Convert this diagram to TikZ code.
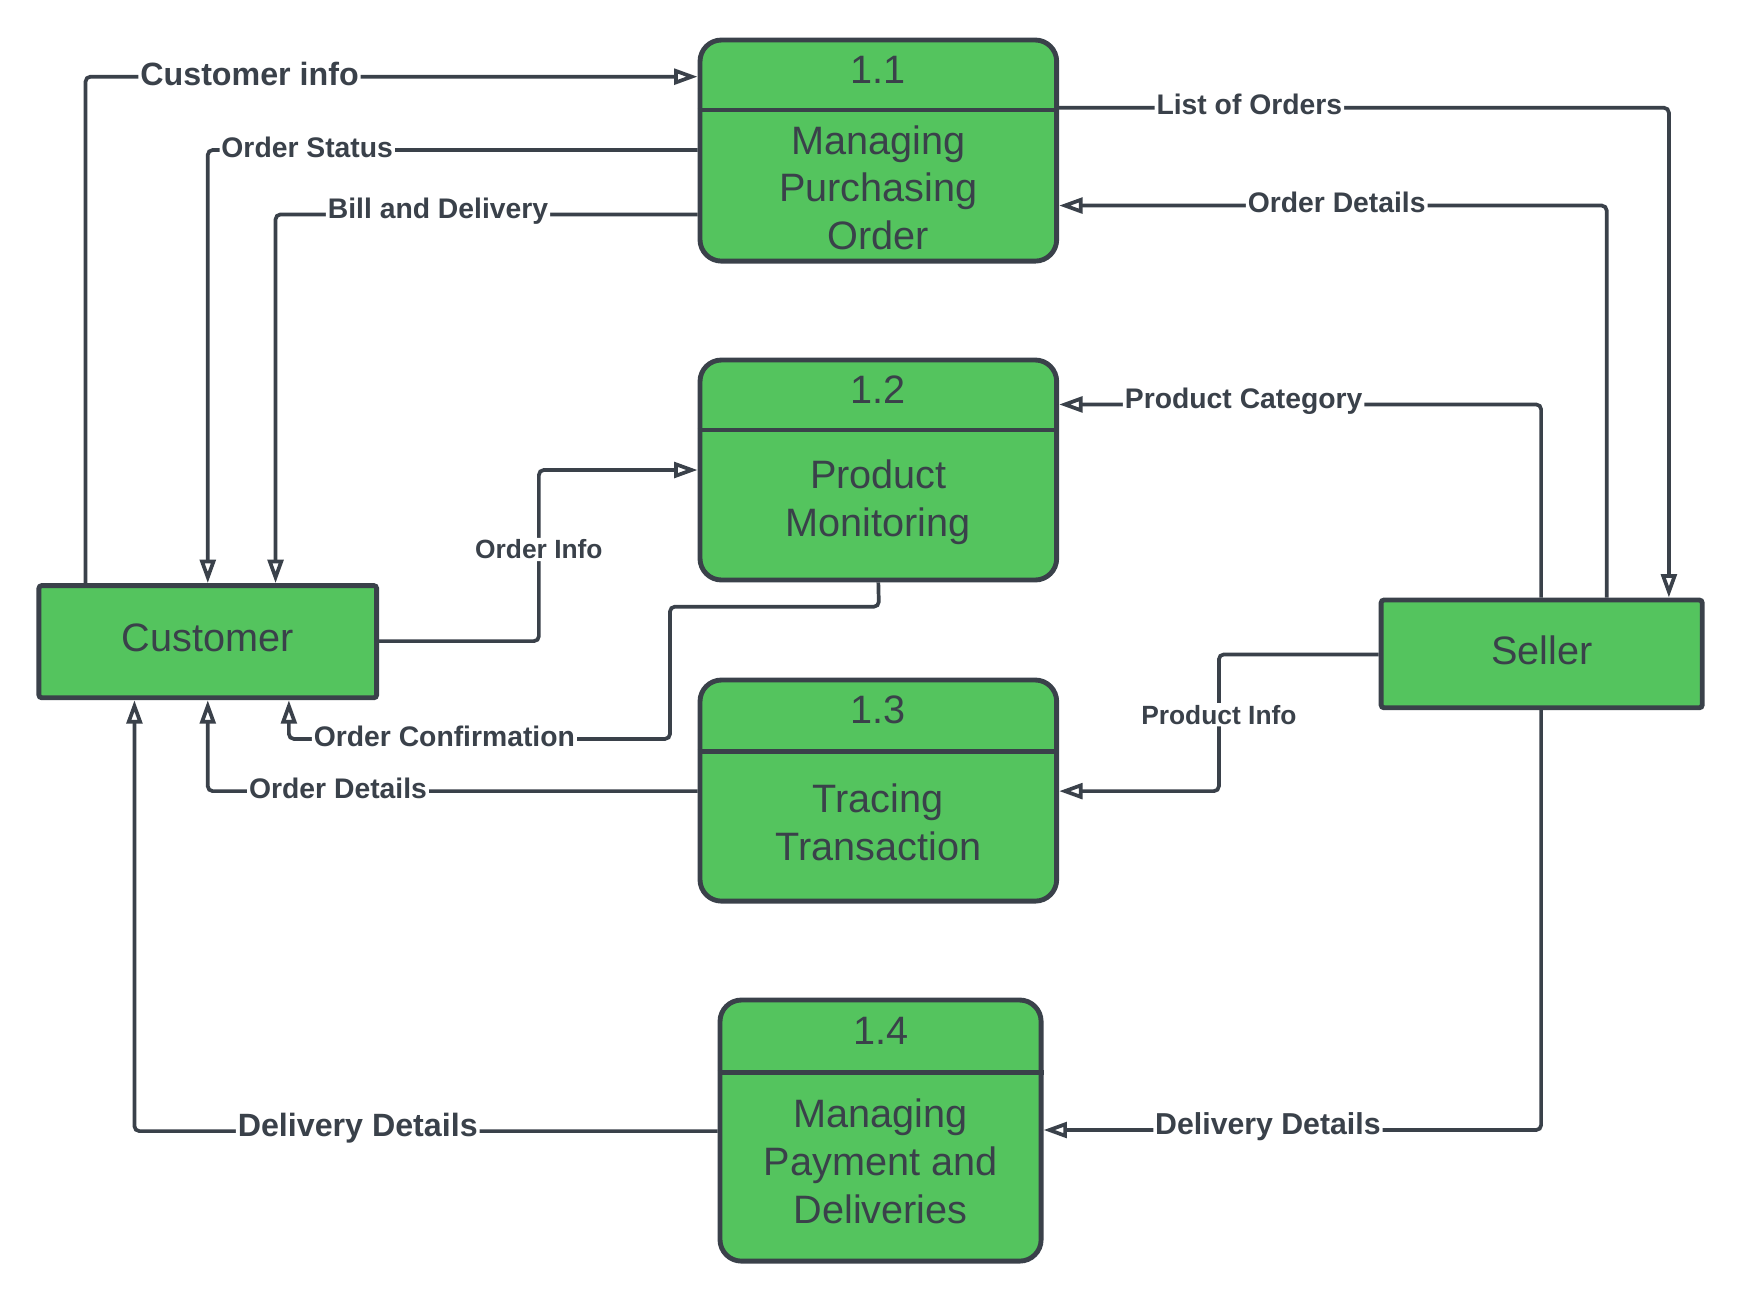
\documentclass[tikz,border=0pt]{standalone}
\usepackage{fontspec}
\setmainfont{Liberation Sans}
\usepackage{xcolor}
\usepackage{tikz}
\usetikzlibrary{arrows.meta, positioning}

\definecolor{dfdgreen}{HTML}{54C45E}
\definecolor{dfdline}{HTML}{3A414A}

\begin{document}
\begin{tikzpicture}[x=0.2mm, y=-0.2mm,
  proc/.style={draw=dfdline, fill=dfdgreen, line width=2.5pt, rounded corners=11pt, inner sep=0pt},
  ext/.style={draw=dfdline, fill=dfdgreen, line width=2.5pt, rounded corners=1.5pt, inner sep=0pt},
  divider/.style={draw=dfdline, line width=2.5pt},
  ptext/.style={text=dfdline, align=center, font=\fontsize{20.3}{24.5}\selectfont},
  flow/.style={draw=dfdline, line width=1.9pt, rounded corners=2.5pt, -{Triangle[open, length=12pt, width=8pt]}},
  lbl/.style={fill=white, inner sep=1pt, yshift=1.5pt, text=dfdline, font=\bfseries\fontsize{14.5}{16}\selectfont},
  biglbl/.style={lbl, font=\bfseries\fontsize{16.5}{18}\selectfont},
  smalllbl/.style={lbl, yshift=0pt, font=\bfseries\fontsize{13.5}{15}\selectfont}]
  \useasboundingbox (0,0) rectangle (1566,1170);

  % processes
  \node[proc, minimum width=64.2mm, minimum height=39.8mm] (p1) at (790.5,135.5) {};
  \node[proc, minimum width=64.2mm, minimum height=39.6mm] (p2) at (790.5,423) {};
  \node[proc, minimum width=64.2mm, minimum height=39.8mm] (p3) at (790.5,711.5) {};
  \node[proc, minimum width=57.8mm, minimum height=47mm] (p4) at (792.5,1017.5) {};
  \draw[divider] (p1.west |- 0,99) -- (p1.east |- 0,99);
  \draw[divider] (p2.west |- 0,387) -- (p2.east |- 0,387);
  \draw[divider] (p3.west |- 0,676) -- (p3.east |- 0,676);
  \draw[divider] (p4.west |- 0,965) -- (p4.east |- 0,965);
  \node[ptext] (n1) at (790.5,63) {1.1};
  \node[ptext] (t1) at (790.5,169) {Managing\\Purchasing\\Order};
  \node[ptext] (n2) at (790.5,351) {1.2};
  \node[ptext] (t2) at (790.5,452) {Product\\Monitoring};
  \node[ptext] (n3) at (790.5,639) {1.3};
  \node[ptext] (t3) at (790.5,740) {Tracing\\Transaction};
  \node[ptext] (n4) at (792.5,928) {1.4};
  \node[ptext] (t4) at (792.5,1045) {Managing\\Payment and\\Deliveries};

  % external entities
  \node[ext, minimum width=60.8mm, minimum height=20.2mm] (cust) at (187,577.5) {};
  \node[ptext] (custtext) at (187,574) {Customer};
  \node[ext, minimum width=57.8mm, minimum height=19.4mm] (seller) at (1387.5,588.5) {};
  \node[ptext] (sellertext) at (1387.5,585) {Seller};

  % flows
  \draw[flow] (cust.north -| 77,0) -- (77,69) -- node[biglbl, pos=0.268] {Customer info} (p1.west |- 0,69);
  \draw[flow] (p1.west |- 0,135) -- node[lbl, pos=0.797] {Order Status} (187,135) -- (cust.north -| 187,0);
  \draw[flow] (p1.west |- 0,193) -- node[lbl, pos=0.615] {Bill and Delivery} (248,193) -- (cust.north -| 248,0);
  \draw[flow] (p1.east |- 0,97) -- node[lbl, pos=0.312] {List of Orders} (1502,97) -- (seller.north -| 1502,0);
  \draw[flow] (seller.north -| 1446,0) -- (1446,185) -- node[lbl, pos=0.493] {Order Details} (p1.east |- 0,185);
  \draw[flow] (seller.north -| 1387,0) -- (1387,364) -- node[lbl, pos=0.617] {Product Category} (p2.east |- 0,364);
  \draw[flow] (cust.east |- 0,577) -- (485,577) -- node[smalllbl, pos=0.519] {Order Info} (485,423) -- (p2.west |- 0,423);
  \draw[flow] (p2.south) -- (791,546) -- (603,546) -- (603,665) -- node[lbl, pos=0.592] {Order Confirmation} (260,665) -- (cust.south -| 260,0);
  \draw[flow] (p3.west |- 0,712) -- node[lbl, pos=0.734] {Order Details} (187,712) -- (cust.south -| 187,0);
  \draw[flow] (seller.west |- 0,589) -- (1097,589) -- node[smalllbl, pos=0.463] {Product Info} (1097,712) -- (p3.east |- 0,712);
  \draw[flow] (p4.west |- 0,1018) -- node[biglbl, pos=0.617] {Delivery Details} (121,1018) -- (cust.south -| 121,0);
  \draw[flow] (seller.south -| 1387,0) -- (1387,1017) -- node[lbl, font=\bfseries\fontsize{15.5}{17}\selectfont, pos=0.549] {Delivery Details} (p4.east |- 0,1017);
\end{tikzpicture}
\end{document}
